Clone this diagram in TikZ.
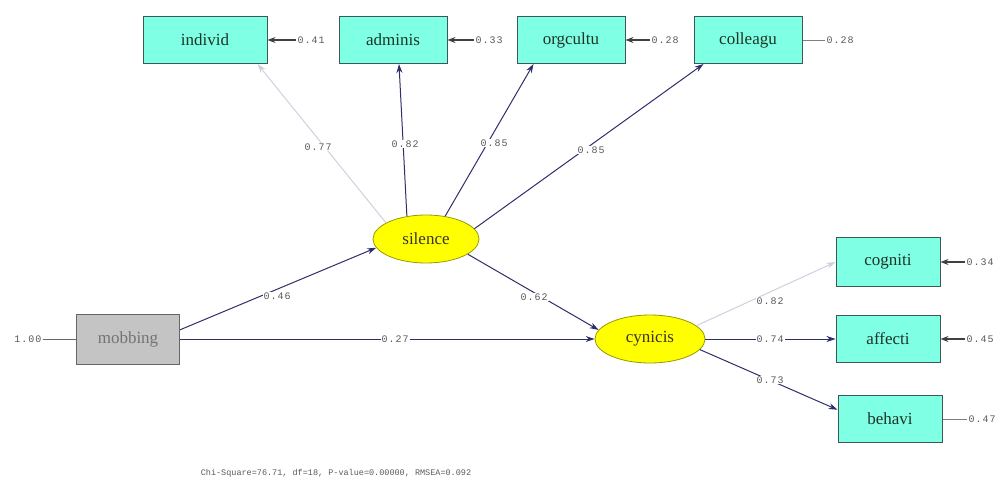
\documentclass[tikz,border=0pt]{standalone}
\usepackage{fontspec}
\setmainfont{Liberation Serif}
\newfontfamily\lblfont[LetterSpace=10]{Liberation Mono}
\newfontfamily\chifont{Liberation Mono}
\usetikzlibrary{arrows.meta,calc,shapes.geometric}
\definecolor{obscol}{HTML}{7FFFE4}
\definecolor{latcol}{HTML}{FFFF00}
\definecolor{mobcol}{HTML}{C4C4C4}
\definecolor{pathcol}{HTML}{2E2E6A}
\definecolor{faintcol}{HTML}{CFCFDF}
\definecolor{framecol}{HTML}{3C5A55}
\definecolor{txtcol}{HTML}{1E3428}
\begin{document}
\begin{tikzpicture}[x=1pt,y=-1pt,
  obs/.style={rectangle, fill=obscol, draw=framecol, line width=1pt,
    minimum width=108pt, minimum height=47pt, inner sep=0pt,
    font=\fontsize{17}{19}\selectfont, text=txtcol},
  exo/.style={obs, fill=mobcol, draw=black!60, text=black!55},
  lat/.style={ellipse, fill=latcol, draw=black!40!latcol, line width=0.8pt,
    minimum width=106pt, minimum height=48pt, inner sep=0pt,
    font=\fontsize{17}{19}\selectfont, text=black!80!olive},
  lbl/.style={font=\lblfont\fontsize{10}{12}\selectfont, text=black!65, fill=white, inner sep=1pt},
  errlbl/.style={font=\lblfont\fontsize{10}{12}\selectfont, text=black!65, inner sep=1pt},
  path/.style={draw=pathcol, line width=1pt, -{Stealth[length=9pt,width=6pt]}},
  faint/.style={draw=faintcol, line width=1pt, -{Stealth[length=9pt,width=6pt]}},
  err/.style={draw=black!75, line width=1.2pt, -{Stealth[length=8pt,width=6pt]}},
  errline/.style={draw=black!50, line width=0.8pt}]
\useasboundingbox (0,0) rectangle (1003,481);

% observed indicators of silence
\node[obs, minimum width=124pt] (individ) at (205,40) {individ};
\node[obs] (adminis) at (393,40) {adminis};
\node[obs] (orgcultu) at (571,40) {orgcultu};
\node[obs] (colleagu) at (748,40) {colleagu};

% latent variables
\node[lat] (silence) at (426,239) {silence};
\node[lat, minimum width=110pt] (cynicis) at (650,339) {cynicis};

% exogenous
\node[exo, minimum width=103pt, minimum height=50pt] (mobbing) at (128,339) {mobbing};

% indicators of cynicism
\node[obs, minimum width=104pt, minimum height=49pt] (cogniti) at (888,262) {cogniti};
\node[obs, minimum width=104pt] (affecti) at (888,339) {affecti};
\node[obs, minimum width=104pt] (behavi) at (890,419) {behavi};

% error terms
\node[errlbl] (e1) at (311,40) {0.41};
\node[errlbl] (e2) at (489,40) {0.33};
\node[errlbl] (e3) at (665,40) {0.28};
\node[errlbl] (e4) at (840,40) {0.28};
\node[errlbl] (e5) at (980,262) {0.34};
\node[errlbl] (e6) at (980,339) {0.45};
\node[errlbl] (e7) at (982,419) {0.47};
\node[errlbl] (e0) at (28,339) {1.00};

\draw[err] (e1) -- (individ);
\draw[err] (e2) -- (adminis);
\draw[err] (e3) -- (orgcultu);
\draw[errline] (e4) -- (colleagu);
\draw[err] (e5) -- (cogniti);
\draw[err] (e6) -- (affecti);
\draw[errline] (e7) -- (behavi);
\draw[errline, draw=black!60] (e0) -- (mobbing);

% loadings of silence
\draw[faint] (silence.158) -- ($(individ.south east)+(-10,0)$);
\draw[path] (silence.130) -- ($(adminis.south)+(6,0)$);
\draw[path] (silence.50) -- ($(orgcultu.south west)+(17,0)$);
\draw[path] (silence.12) -- ($(colleagu.south west)+(10,0)$);

% structural paths
\draw[path] (mobbing.10) -- (silence.190);
\draw[path] (mobbing.east) -- (cynicis.west);
\draw[path] (silence.-20) -- (cynicis.170);

% loadings of cynicism
\draw[faint] (cynicis.16) -- (cogniti.west);
\draw[path] (cynicis.east) -- (affecti.west);
\draw[path] (cynicis.-12) -- (behavi.170);

% path labels
\node[lbl] (l1) at (318,147) {0.77};
\node[lbl] (l2) at (405,144) {0.82};
\node[lbl] (l3) at (494,143) {0.85};
\node[lbl] (l4) at (591,150) {0.85};
\node[lbl] (l5) at (277,296) {0.46};
\node[lbl] (l6) at (395,339) {0.27};
\node[lbl] (l7) at (534,297) {0.62};
\node[lbl] (l8) at (770,301) {0.82};
\node[lbl] (l9) at (770,339) {0.74};
\node[lbl] (l10) at (770,380) {0.73};

% fit statistics
\node[font=\chifont\fontsize{8.5}{10}\selectfont, text=black!65] (fit) at (336,473)
  {Chi-Square=76.71, df=18, P-value=0.00000, RMSEA=0.092};
\end{tikzpicture}
\end{document}
